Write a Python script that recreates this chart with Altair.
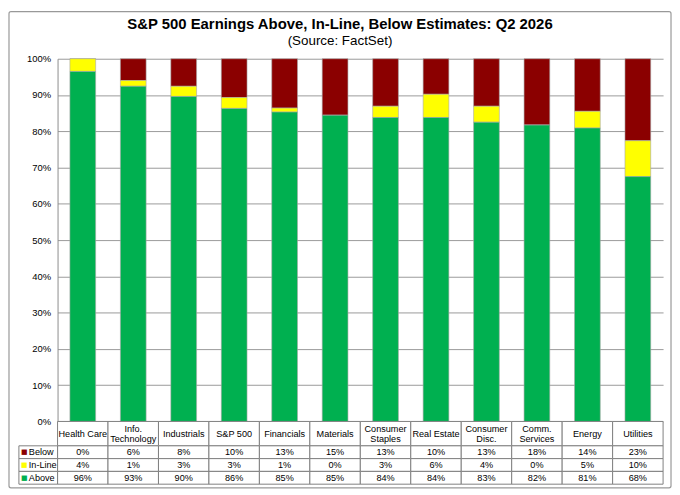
import altair as alt
import pandas as pd

# ---------------- data ----------------
categories = ["Health Care", "Info. Technology", "Industrials", "S&P 500", "Financials",
              "Materials", "Consumer Staples", "Real Estate", "Consumer Disc.",
              "Comm. Services", "Energy", "Utilities"]
header_labels = ["Health Care", "Info.\nTechnology", "Industrials", "S&P 500", "Financials",
                 "Materials", "Consumer\nStaples", "Real Estate", "Consumer\nDisc.",
                 "Comm.\nServices", "Energy", "Utilities"]
series = ["Below", "In-Line", "Above"]
colors = ["#8B0000", "#FFFF00", "#00B050"]

# bar segment heights (percent)
above = [96.5, 92.4, 89.6, 86.3, 85.3, 84.4, 83.8, 83.8, 82.5, 81.7, 80.9, 67.5]
inline = [3.5, 1.6, 2.8, 3.0, 1.1, 0.0, 3.1, 6.4, 4.4, 0.0, 4.6, 9.9]
below = [0.0, 6.0, 7.6, 10.7, 13.6, 15.6, 13.1, 9.8, 13.1, 18.3, 14.5, 22.6]

# values printed in the data table (percent)
table_below = [0, 6, 8, 10, 13, 15, 13, 10, 13, 18, 14, 23]
table_inline = [4, 1, 3, 3, 1, 0, 3, 6, 4, 0, 5, 10]
table_above = [96, 93, 90, 86, 85, 85, 84, 84, 83, 82, 81, 68]

y_ticks = [0, 10, 20, 30, 40, 50, 60, 70, 80, 90, 100]

# ---------------- layout ----------------
W, H = 611, 366
HEADER_H = 24.6
ROW_H = 12.9
LABEL_W = 39
FONT = "Liberation Sans"
BORDER = "#808080"

# ---------------- tables for the library ----------------
bar_values = {"Below": below, "In-Line": inline, "Above": above}
stack_order = {"Above": 0, "In-Line": 1, "Below": 2}
bars_df = pd.DataFrame([
    {"Category": c, "Series": s, "Value": bar_values[s][i], "Order": stack_order[s]}
    for i, c in enumerate(categories) for s in series
])

table_values = {"Below": table_below, "In-Line": table_inline, "Above": table_above}
rows_df = pd.DataFrame([
    {"Category": c, "Series": s, "Label": f"{table_values[s][i]}%"}
    for i, c in enumerate(categories) for s in series
])
hdr_df = pd.DataFrame({
    "Category": categories,
    "Label": header_labels,
    "Lines": [len(t.split("\n")) for t in header_labels],
    "Row": ["hdr"] * len(categories),
})
lbl_df = pd.DataFrame({"Series": series, "Col": ["lbl"] * len(series), "Mark": ["\u25A0"] * len(series)})

color = alt.Color("Series:N", scale=alt.Scale(domain=series, range=colors), legend=None)

# ---------------- stacked bars ----------------
bars = alt.Chart(bars_df).mark_bar(stroke="#a8a8a8", strokeWidth=0.6).encode(
    x=alt.X("Category:N", sort=categories,
            scale=alt.Scale(domain=categories, paddingInner=0.49, paddingOuter=0.245),
            axis=None),
    y=alt.Y("Value:Q", stack="zero",
            scale=alt.Scale(domain=[0, 100], nice=False),
            axis=alt.Axis(values=y_ticks, labelExpr="datum.value + '%'", title=None,
                          ticks=False, labelPadding=7, labelFontSize=9.5, labelFont=FONT,
                          labelColor="black", domainColor="#8c8c8c", gridColor="#9a9a9a",
                          grid=True)),
    color=color,
    order=alt.Order("Order:Q", sort="ascending"),
)

# ---------------- table header (category names) ----------------
hx = alt.X("Category:N", sort=categories,
           scale=alt.Scale(domain=categories, paddingInner=0, paddingOuter=0), axis=None)
hy = alt.Y("Row:N", scale=alt.Scale(domain=["hdr"], range=[H, H + HEADER_H],
                                    paddingInner=0, paddingOuter=0), axis=None)
hdr_base = alt.Chart(hdr_df).encode(x=hx, y=hy)
header = alt.layer(
    hdr_base.mark_rect(fill="white", stroke=BORDER, strokeWidth=1),
    hdr_base.mark_text(font=FONT, fontSize=9.2, color="black", lineBreak="\n",
                       baseline="middle", lineHeight=10.5,
                       dy=alt.expr("datum.Lines > 1 ? -5 : 0")).encode(text="Label:N"),
)

# ---------------- table body ----------------
ry = alt.Y("Series:N", sort=series,
           scale=alt.Scale(domain=series, range=[H + HEADER_H, H + HEADER_H + 3 * ROW_H],
                           paddingInner=0, paddingOuter=0), axis=None)
rows_base = alt.Chart(rows_df).encode(x=hx, y=ry)
body = alt.layer(
    rows_base.mark_rect(fill="white", stroke=BORDER, strokeWidth=1),
    rows_base.mark_text(font=FONT, fontSize=9.2, color="black", baseline="middle").encode(text="Label:N"),
)

# ---------------- row label column ----------------
lscale = alt.Scale(domain=["lbl"], range=[-LABEL_W, 0], paddingInner=0, paddingOuter=0)
lx = alt.X("Col:N", bandPosition=0, scale=lscale, axis=None)
lx_rect = alt.X("Col:N", scale=lscale, axis=None)
lbl_base = alt.Chart(lbl_df)
labels = alt.layer(
    lbl_base.mark_rect(fill="white", stroke=BORDER, strokeWidth=1).encode(x=lx_rect, y=ry),
    lbl_base.mark_text(font="DejaVu Sans", fontSize=7, align="center", baseline="middle", dx=5.5)
    .encode(x=lx, y=ry, text="Mark:N", color=color),
    lbl_base.mark_text(font=FONT, fontSize=9.2, color="black", align="left", baseline="middle", dx=10)
    .encode(x=lx, y=ry, text="Series:N"),
)

# ---------------- outer frame ----------------
frame = alt.Chart(pd.DataFrame({"k": [0]})).mark_rect(
    fill="transparent", stroke="#999999", strokeWidth=1.2, cornerRadius=2
).encode(x=alt.value(-49), x2=alt.value(W + 8), y=alt.value(-47.5), y2=alt.value(H + 67))

chart = alt.layer(frame, bars, header, body, labels).resolve_scale(
    x="independent", y="independent"
).properties(
    width=W, height=H, padding=0, background="white",
    title=alt.Title(
        "S&P 500 Earnings Above, In-Line, Below Estimates: Q2 2026",
        subtitle="(Source: FactSet)",
        font=FONT, fontSize=15, fontWeight="bold", color="black",
        subtitleFont=FONT, subtitleFontSize=13.5, subtitleColor="black",
        subtitlePadding=1.5, anchor="middle", frame="bounds", offset=-36.5,
    ),
).configure_view(stroke="transparent")

chart.save("out.html", embed_options={"renderer": "svg", "actions": False})
